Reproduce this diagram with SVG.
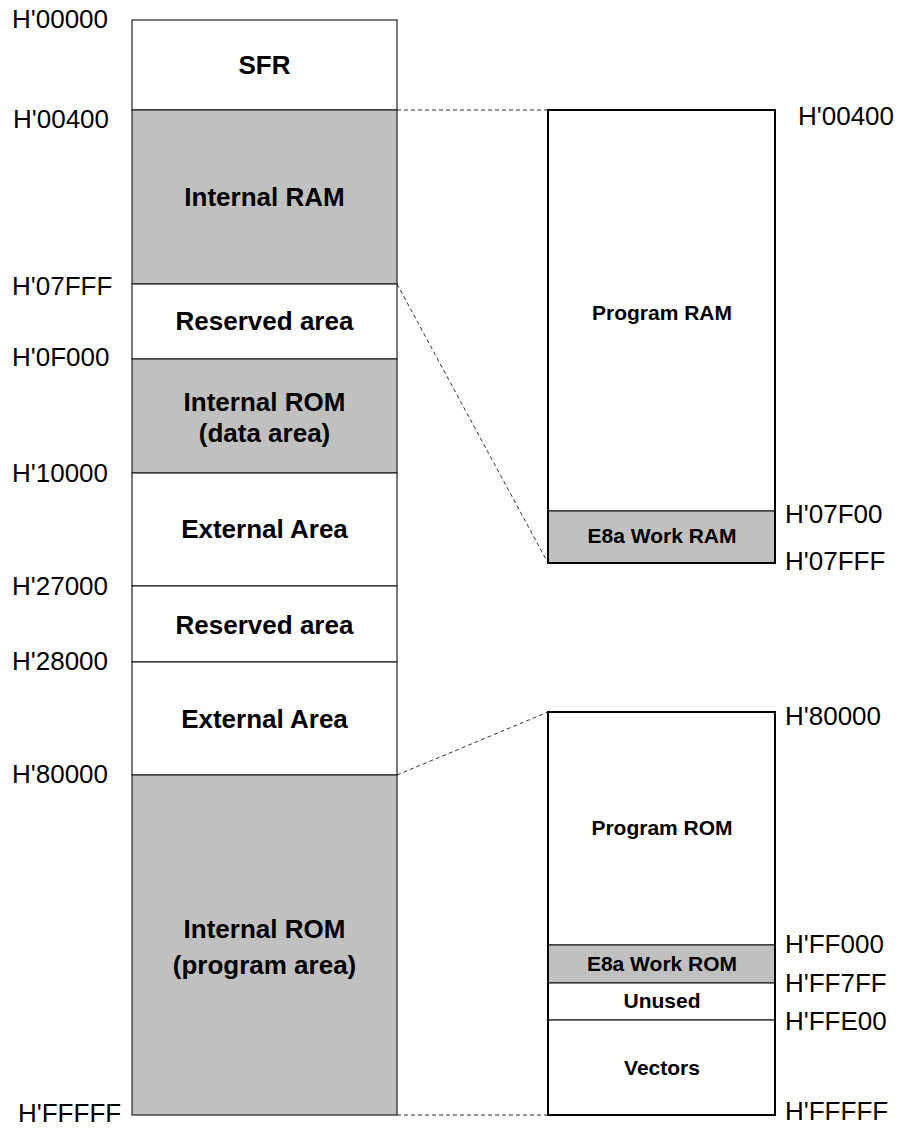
<svg xmlns="http://www.w3.org/2000/svg" width="899" height="1128" viewBox="0 0 899 1128">
  <style>
    .blk { stroke: #222; stroke-width: 1.2; }
    .w { fill: #ffffff; }
    .g { fill: #c0c0c0; }
    .outer { fill: none; stroke: #000; stroke-width: 2; }
    .addr { font-family: "Liberation Sans", Arial, sans-serif; font-size: 26px; fill: #000; }
    .lbl { font-family: "Liberation Sans", Arial, sans-serif; font-size: 26px; font-weight: bold; fill: #000; text-anchor: middle; }
    .lbl-s { font-family: "Liberation Sans", Arial, sans-serif; font-size: 21px; font-weight: bold; fill: #000; text-anchor: middle; }
    .dash { fill: none; stroke: #333; stroke-width: 1; stroke-dasharray: 4 3; }
  </style>
  <rect width="899" height="1128" fill="#ffffff"/>

  <!-- connectors between the full map and the detail views -->
  <g id="connectors">
    <line class="dash" x1="397" y1="110" x2="548" y2="110"/>
    <line class="dash" x1="397" y1="284" x2="548" y2="563"/>
    <line class="dash" x1="397" y1="775" x2="548" y2="712"/>
    <line class="dash" x1="397" y1="1115" x2="548" y2="1115"/>
  </g>

  <!-- full memory map -->
  <g id="sfr">
    <rect class="blk w" x="132" y="20" width="265" height="90"/>
    <text class="lbl" x="264.5" y="74">SFR</text>
  </g>
  <g id="internal-ram">
    <rect class="blk g" x="132" y="110" width="265" height="174"/>
    <text class="lbl" x="264.5" y="206">Internal RAM</text>
  </g>
  <g id="reserved-1">
    <rect class="blk w" x="132" y="284" width="265" height="75"/>
    <text class="lbl" x="264.5" y="330">Reserved area</text>
  </g>
  <g id="internal-rom-data">
    <rect class="blk g" x="132" y="359" width="265" height="114"/>
    <text class="lbl" x="264.5" y="411">Internal ROM</text>
    <text class="lbl" x="264.5" y="442">(data area)</text>
  </g>
  <g id="external-1">
    <rect class="blk w" x="132" y="473" width="265" height="113"/>
    <text class="lbl" x="264.5" y="538">External Area</text>
  </g>
  <g id="reserved-2">
    <rect class="blk w" x="132" y="586" width="265" height="76"/>
    <text class="lbl" x="264.5" y="634">Reserved area</text>
  </g>
  <g id="external-2">
    <rect class="blk w" x="132" y="662" width="265" height="113"/>
    <text class="lbl" x="264.5" y="728">External Area</text>
  </g>
  <g id="internal-rom-program">
    <rect class="blk g" x="132" y="775" width="265" height="340"/>
    <text class="lbl" x="264.5" y="938">Internal ROM</text>
    <text class="lbl" x="264.5" y="974">(program area)</text>
  </g>

  <!-- left address labels -->
  <g id="left-addresses">
    <text class="addr" x="12" y="28">H'00000</text>
    <text class="addr" x="13" y="128">H'00400</text>
    <text class="addr" x="12" y="295">H'07FFF</text>
    <text class="addr" x="12" y="366">H'0F000</text>
    <text class="addr" x="12" y="482">H'10000</text>
    <text class="addr" x="12" y="595">H'27000</text>
    <text class="addr" x="12" y="670">H'28000</text>
    <text class="addr" x="12" y="783">H'80000</text>
    <text class="addr" x="18" y="1122">H'FFFFF</text>
  </g>

  <!-- RAM detail -->
  <g id="program-ram">
    <rect class="blk w" x="548" y="110" width="227" height="401"/>
    <text class="lbl-s" x="662" y="320">Program RAM</text>
  </g>
  <g id="e8a-work-ram">
    <rect class="blk g" x="548" y="511" width="227" height="52"/>
    <text class="lbl-s" x="662" y="543">E8a Work RAM</text>
  </g>
  <rect class="outer" x="548" y="110" width="227" height="453"/>

  <!-- ROM detail -->
  <g id="program-rom">
    <rect class="blk w" x="548" y="712" width="227" height="233"/>
    <text class="lbl-s" x="662" y="835">Program ROM</text>
  </g>
  <g id="e8a-work-rom">
    <rect class="blk g" x="548" y="945" width="227" height="38"/>
    <text class="lbl-s" x="662" y="971">E8a Work ROM</text>
  </g>
  <g id="unused">
    <rect class="blk w" x="548" y="983" width="227" height="37"/>
    <text class="lbl-s" x="662" y="1008">Unused</text>
  </g>
  <g id="vectors">
    <rect class="blk w" x="548" y="1020" width="227" height="95"/>
    <text class="lbl-s" x="662" y="1075">Vectors</text>
  </g>
  <rect class="outer" x="548" y="712" width="227" height="403"/>

  <!-- right address labels -->
  <g id="right-addresses">
    <text class="addr" x="798" y="125">H'00400</text>
    <text class="addr" x="785" y="523">H'07F00</text>
    <text class="addr" x="785" y="570">H'07FFF</text>
    <text class="addr" x="785" y="725">H'80000</text>
    <text class="addr" x="785" y="953">H'FF000</text>
    <text class="addr" x="785" y="992">H'FF7FF</text>
    <text class="addr" x="785" y="1030">H'FFE00</text>
    <text class="addr" x="785" y="1120">H'FFFFF</text>
  </g>
</svg>
